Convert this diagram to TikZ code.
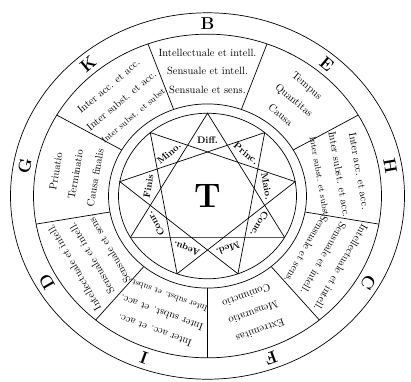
\documentclass[tikz,border=0pt]{standalone}
\usepackage{tikz}

\tikzset{
  ringtext/.style={font=\fontsize{10.5}{12}\selectfont, inner sep=0.5pt},
  innertext/.style={font=\fontsize{8.7}{10}\selectfont},
  sectorletter/.style={font=\LARGE\bfseries, inner sep=0pt},
  starlabel/.style={font=\fontsize{9.5}{11}\selectfont\bfseries, inner sep=0.5pt},
}

\begin{document}
\begin{tikzpicture}[x=1pt, y=1pt, line width=0.7pt]
  \useasboundingbox (-207.5,-185) rectangle (203.5,196);
  \begin{scope}[yscale=0.93]
  % Rings
  \draw (0,0) circle (197);
  \draw (0,0) circle (174);
  \draw (0,0) circle (99);
  \draw (0,0) circle (89);

  % Sector dividers
  \foreach \a in {150,110,...,-170}
    \draw (\a:99) -- (\a:174);

  % Corners of the three triangles
  \foreach \k in {0,...,8}
    \coordinate (v\k) at (90-40*\k:89);
  \draw (v0) -- (v3) -- (v6) -- cycle;
  \draw (v1) -- (v4) -- (v7) -- cycle;
  \draw (v2) -- (v5) -- (v8) -- cycle;

  % Labels in the star tips
  \foreach \k/\t in {0/Diff., 1/Princ., 2/Maio., 3/Conc., 4/Med.,
                     5/Aequ., 6/Conr., 7/Finis, 8/Mino.}
    \node[starlabel, rotate=-40*\k] (tip\k) at (90-40*\k:60) {\t};

  \node[font=\fontsize{34}{36}\selectfont\bfseries] (T) at (0,0) {T};

  % Sector letters and their three lines
  \foreach \a/\l/\p/\q/\r/\s in {
      90/B/Intellectuale et intell./Sensuale et intell./Sensuale et sens./ringtext,
      50/E/Tempus/Quantitas/Causa/ringtext,
      10/H/Inter acc. et acc./Inter subst. et acc./Inter subst. et subst./innertext,
      -30/C/Intellectuale et intell./Sensuale et intell./Sensuale et sens./ringtext,
      -70/F/Extremitas/Mensuratio/Coniunctio/ringtext,
      -110/I/Inter acc. et acc./Inter subst. et acc./Inter subst. et subst./innertext,
      -150/D/Intellectuale et intell./Sensuale et intell./Sensuale et sens./ringtext,
      170/G/Priuatio/Terminatio/Causa finalis/ringtext,
      130/K/Inter acc. et acc./Inter subst. et acc./Inter subst. et subst./innertext}
  {
    \node[sectorletter, rotate=\a-90] (ltr\l) at (\a:185.5) {\l};
    \node[ringtext, rotate=\a-90] (\l-1) at (\a:154) {\p};
    \node[ringtext, rotate=\a-90] (\l-2) at (\a:134) {\q};
    \node[ringtext, \s, rotate=\a-90] (\l-3) at (\a:114) {\r};
  }
  \end{scope}
\end{tikzpicture}
\end{document}
